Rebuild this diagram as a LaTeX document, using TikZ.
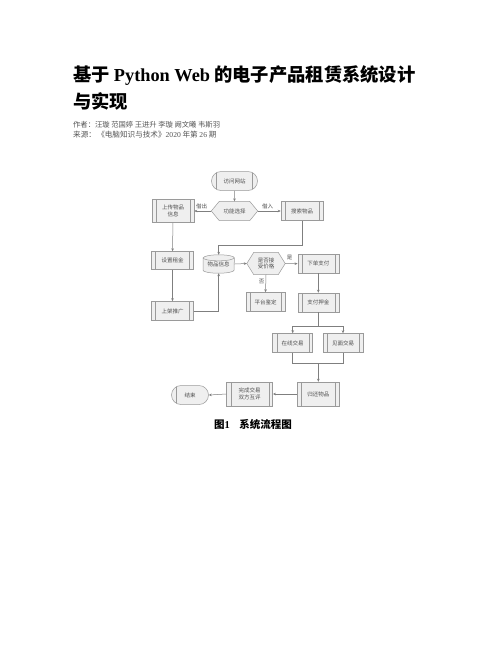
\documentclass[tikz,border=0pt]{standalone}
\usepackage{fontspec}
\setmainfont{Liberation Serif}
\newfontfamily\cjk{Noto Sans CJK SC}
\usetikzlibrary{shapes.misc,arrows.meta,calc}
\pgfdeclarelayer{bg}
\pgfsetlayers{bg,main}
\definecolor{boxfill}{HTML}{EFEFEF}
\definecolor{boxline}{HTML}{9A9A9A}
\definecolor{arrline}{HTML}{7F7F7F}
\definecolor{boxtext}{HTML}{505050}
\definecolor{metatext}{HTML}{555555}
\newcommand\hexa[2]{%
  \begin{pgfonlayer}{bg}
  \draw[shapeln] (#1.west) -- ([xshift=#2]#1.north west) -- ([xshift=-#2]#1.north east) -- (#1.east) -- ([xshift=-#2]#1.south east) -- ([xshift=#2]#1.south west) -- cycle;
  \end{pgfonlayer}}
\begin{document}
\begin{tikzpicture}[x=1pt,y=-1pt,
  shapeln/.style={draw=boxline,fill=boxfill,line width=0.5pt},
  txt/.style={font=\cjk\fontsize{5.5}{6.6}\selectfont,text=boxtext,align=center,inner sep=0pt},
  procbox/.style={txt,shapeln,rectangle,
    path picture={\draw[boxline,line width=0.4pt]
      ([xshift=4pt]path picture bounding box.north west) -- ([xshift=4pt]path picture bounding box.south west)
      ([xshift=-4pt]path picture bounding box.north east) -- ([xshift=-4pt]path picture bounding box.south east);}},
  termbox/.style={txt,shapeln,rounded rectangle},
  plain/.style={txt},
  lbl/.style={font=\cjk\fontsize{5.5}{6.6}\selectfont,text=boxtext,inner sep=0pt},
  line/.style={draw=arrline,line width=0.5pt},
  arr/.style={line,-{Stealth[length=3pt,width=2.6pt]}},
]
\useasboundingbox (0,0) rectangle (502,649);
\begin{pgfonlayer}{bg}
\fill[white] (0,0) rectangle (502,649);
\end{pgfonlayer}

% header text
\node[anchor=base west,inner sep=0pt] (title1) at (73,81)
  {\fontsize{18.3}{20}\selectfont\bfseries\cjk 基于 {\rmfamily\bfseries Python Web} 的电子产品租赁系统设计};
\node[anchor=base west,inner sep=0pt] (title2) at (73,108.5)
  {\fontsize{18.3}{20}\selectfont\bfseries\cjk 与实现};
\node[anchor=base west,inner sep=0pt,text=metatext] (authors) at (73,127)
  {\fontsize{7.3}{9}\selectfont\cjk 作者：汪璇 范国婷 王进升 李璇 阙文曦 韦斯羽};
\node[anchor=base west,inner sep=0pt,text=metatext] (source) at (73,137.5)
  {\fontsize{7.6}{9}\selectfont\cjk 来源：\,《电脑知识与技术》{\rmfamily 2020} 年第 {\rmfamily 26} 期};

% flowchart nodes
\node[termbox,minimum width=46pt,minimum height=19pt,
  path picture={\draw[boxline,line width=0.4pt]
      ([xshift=5pt]path picture bounding box.north west) -- ([xshift=5pt]path picture bounding box.south west)
      ([xshift=-5pt]path picture bounding box.north east) -- ([xshift=-5pt]path picture bounding box.south east);}]
  (visit) at (234.5,181) {访问网站};
\node[plain,minimum width=46pt,minimum height=19pt] (func) at (234.5,211) {功能选择};
\hexa{func}{8pt}
\node[procbox,minimum width=42pt,minimum height=23pt] (upload) at (173,211) {上传物品\\信息};
\node[procbox,minimum width=42pt,minimum height=19pt] (search) at (302,211) {搜索物品};
\node[procbox,minimum width=42pt,minimum height=18pt] (rent) at (172.5,260.5) {设置租金};
\node[plain,minimum width=31pt,minimum height=18pt] (info) at (218.7,264) {\raisebox{-1.5pt}{物品信息}};
\begin{pgfonlayer}{bg}
\draw[shapeln] ([yshift=-3pt]info.north west) -- ([yshift=3pt]info.south west)
  arc[start angle=180,end angle=360,x radius=15.5pt,y radius=3pt]
  -- ([yshift=-3pt]info.north east)
  arc[start angle=0,end angle=180,x radius=15.5pt,y radius=3pt] -- cycle;
\draw[draw=boxline,line width=0.5pt] ([yshift=-3pt]info.north west)
  arc[start angle=180,end angle=360,x radius=15.5pt,y radius=3pt];
\end{pgfonlayer}
\node[plain,minimum width=38pt,minimum height=22pt] (accept) at (266,263.5) {是否接\\受价格};
\hexa{accept}{7pt}
\node[procbox,minimum width=41pt,minimum height=19pt] (order) at (318.3,263.7) {下单支付};
\node[procbox,minimum width=39pt,minimum height=19pt] (identify) at (265.5,302) {平台鉴定};
\node[procbox,minimum width=41pt,minimum height=19pt] (deposit) at (318.3,302.5) {支付押金};
\node[procbox,minimum width=42pt,minimum height=19pt] (promote) at (172.5,311) {上架推广};
\node[procbox,minimum width=40pt,minimum height=19pt] (online) at (292.7,343) {在线交易};
\node[procbox,minimum width=40pt,minimum height=19pt] (meet) at (343,343) {见面交易};
\node[procbox,minimum width=42pt,minimum height=24pt] (return) at (318.3,394) {归还物品};
\node[procbox,minimum width=46pt,minimum height=24pt] (finish) at (249.7,394) {完成交易\\双方互评};
\node[termbox,minimum width=37pt,minimum height=19pt,
  path picture={\draw[boxline,line width=0.4pt]
      ([xshift=5pt]path picture bounding box.north west) -- ([xshift=5pt]path picture bounding box.south west);}]
  (end) at (190,395) {结束};

% connectors
\coordinate (j1) at (0,245);
\coordinate (j2) at (0,326);
\coordinate (j3) at (0,363);
\draw[arr] (visit) -- (func);
\draw[arr] (func.west) -- (upload.east);
\draw[arr] (func.east) -- (search.west);
\draw[arr] (upload) -- (rent);
\draw[arr] (rent) -- (promote);
\draw[arr] (promote.east) -| (info.south);
\draw[arr] (search.south) -- (search.south |- j1) -| (info.north);
\draw[arr] (info.east) -- (accept.west);
\draw[arr] (accept.east) -- (order.west);
\draw[arr] (accept.south) -- (identify.north);
\draw[arr] (order) -- (deposit);
\draw[line] (deposit.south) -- (deposit.south |- j2);
\draw[arr] (deposit.south |- j2) -| (online.north);
\draw[arr] (deposit.south |- j2) -| (meet.north);
\draw[line] (online.south) |- (meet.south |- j3) -- (meet.south);
\draw[arr] (return.north |- j3) -- (return.north);
\draw[arr] (return.west) -- (finish.east);
\draw[arr] (finish.west) -- (end.east);

% connector labels
\node[lbl] (lout) at (201.7,206.5) {借出};
\node[lbl] (lin) at (267.7,206.5) {借入};
\node[lbl] (lyes) at (289.5,258) {是};
\node[lbl] (lno) at (261.5,281.5) {否};

% caption
\node[inner sep=0pt] (caption) at (253,424)
  {\fontsize{10.5}{12}\selectfont\bfseries\cjk 图{\rmfamily\bfseries 1}\hspace{0.9em}系统流程图};
\end{tikzpicture}
\end{document}
